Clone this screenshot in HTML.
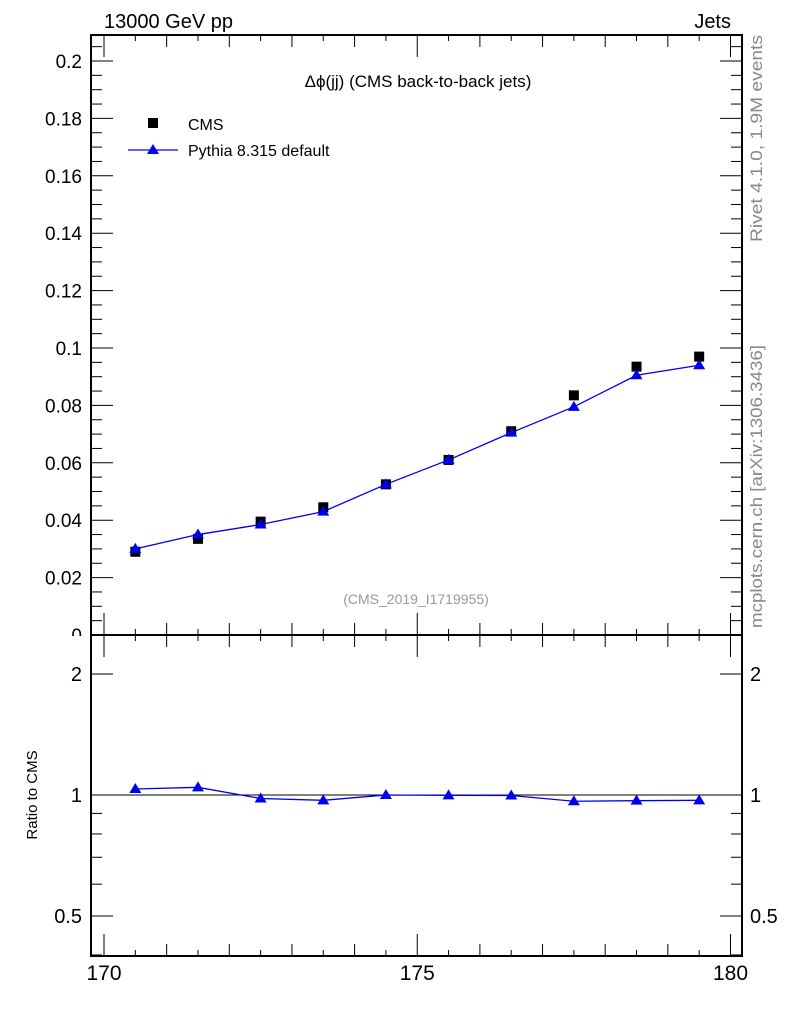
<!DOCTYPE html>
<html><head><meta charset="utf-8"><style>
html,body{margin:0;padding:0;background:#fff}
svg{display:block;font-family:"Liberation Sans",sans-serif}
</style></head><body>
<svg id="c" width="786" height="1024" xmlns="http://www.w3.org/2000/svg">
<text x="104" y="28" font-size="20">13000 GeV pp</text>
<text x="731" y="28" font-size="20" text-anchor="end">Jets</text>
<text x="418" y="87" font-size="17" text-anchor="middle">Δϕ(jj) (CMS back-to-back jets)</text>
<text x="416" y="604" font-size="14" fill="#999" text-anchor="middle">(CMS_2019_I1719955)</text>
<text transform="translate(762,242) rotate(-90)" font-size="17" fill="#888" textLength="207" lengthAdjust="spacingAndGlyphs">Rivet 4.1.0,  1.9M events</text>
<text transform="translate(762,628) rotate(-90)" font-size="17" fill="#888" textLength="283" lengthAdjust="spacingAndGlyphs">mcplots.cern.ch [arXiv:1306.3436]</text>
<text transform="translate(37,795) rotate(-90)" font-size="15" text-anchor="middle">Ratio to CMS</text>
<g>
<rect x="148" y="118" width="10" height="10" fill="#000"/>
<text x="188" y="130" font-size="16">CMS</text>
<line x1="128" y1="150" x2="178" y2="150" stroke="#0000ee" stroke-width="1.3"/>
<polygon points="153,144 159,154 147,154" fill="#0000ee"/>
<text x="188" y="156" font-size="16">Pythia 8.315 default</text>
</g>
<g id="g"></g>
</svg>
<script>
const binCenters=[170.5,171.5,172.5,173.5,174.5,175.5,176.5,177.5,178.5,179.5];
const cmsValues=[0.029,0.0335,0.0395,0.0445,0.0525,0.061,0.071,0.0835,0.0935,0.097];
const pythiaValues=[0.030,0.035,0.0385,0.043,0.0525,0.061,0.0705,0.0795,0.0905,0.094];
const ratioValues=[1.035,1.045,0.98,0.97,1.0,0.998,0.997,0.965,0.968,0.97];
const yTickLabels=[0,0.02,0.04,0.06,0.08,0.1,0.12,0.14,0.16,0.18,0.2];
const xTickLabels=[170,175,180];
const ratioTickLabels=[0.5,1,2];

const NS="http://www.w3.org/2000/svg";
const g=document.getElementById('g');
const L=91,R=742,T=35,M=635,B=956;
const X=v=>104+(v-170)*62.65;
const Y=v=>635-2870*v;
const RY=r=>795-121*Math.log2(r);
function el(t,a){const e=document.createElementNS(NS,t);for(const k in a)e.setAttribute(k,a[k]);g.appendChild(e);return e;}
function ln(x1,y1,x2,y2,w){return el('line',{x1,y1,x2,y2,stroke:'#000','stroke-width':w||1});}

// main y ticks
for(let i=0;i<=42;i++){const v=i*0.005;const y=Y(v);if(y<T)continue;
 const major=i%4===0;const len=major?22:11;
 ln(L,y,L+len,y);ln(R,y,R-len,y);}
yTickLabels.forEach(v=>{const t=el('text',{x:L-9,y:Y(v)+7,'font-size':19,'text-anchor':'end'});
 t.textContent=String(v);
 
 });
// white cover to clip zero label bottom like reference
el('rect',{x:60,y:M+1,width:30,height:10,fill:'#fff'});
// frames
let f1=el('rect',{x:L,y:T,width:R-L,height:M-T,fill:'none',stroke:'#000','stroke-width':2});


let f2=el('rect',{x:L,y:M,width:R-L,height:B-M,fill:'none',stroke:'#000','stroke-width':2});


// x ticks
for(let i=0;i<=20;i++){const v=170+i*0.5;const x=X(v);
 const len=(i%10===0)?22:(i%2===0?12:6);
 ln(x,T,x,T+len);ln(x,M,x,M-len);ln(x,M,x,M+len);ln(x,B,x,B-len);}
xTickLabels.forEach(v=>{const t=el('text',{x:X(v),y:980,'font-size':21,'text-anchor':'middle'});
 t.textContent=String(v);
 
 });
// ratio ticks
[0.4,0.5,0.6,0.7,0.8,0.9,1,2].forEach(r=>{const y=RY(r);const major=ratioTickLabels.includes(r);const len=major?22:11;
 ln(L,y,L+len,y);ln(R,y,R-len,y);});
ratioTickLabels.forEach(r=>{const y=RY(r)+7;
 const t=el('text',{x:L-9,y,'font-size':20,'text-anchor':'end'});t.textContent=String(r);
 
 
 const t2=el('text',{x:R+8,y,'font-size':20});t2.textContent=String(r);
 
 });
let one=ln(L,RY(1),R,RY(1));



// pythia main line
let p=el('polyline',{points:binCenters.map((x,i)=>X(x)+','+Y(pythiaValues[i])).join(' '),fill:'none',stroke:'#0000ee','stroke-width':1.3});


// cms markers
binCenters.forEach((x,i)=>{const r=el('rect',{x:X(x)-5,y:Y(cmsValues[i])-5,width:10,height:10,fill:'#000'});
 
 });
binCenters.forEach((x,i)=>{const cx=X(x),cy=Y(pythiaValues[i]);
 const t=el('polygon',{points:`${cx},${cy-6} ${cx+6},${cy+4} ${cx-6},${cy+4}`,fill:'#0000ee'});
 
 });
// ratio
let rp=el('polyline',{points:binCenters.map((x,i)=>X(x)+','+RY(ratioValues[i])).join(' '),fill:'none',stroke:'#0000ee','stroke-width':1.3});


binCenters.forEach((x,i)=>{const cx=X(x),cy=RY(ratioValues[i]);
 const t=el('polygon',{points:`${cx},${cy-6} ${cx+6},${cy+4} ${cx-6},${cy+4}`,fill:'#0000ee'});
 
 });
</script>
</body></html>
